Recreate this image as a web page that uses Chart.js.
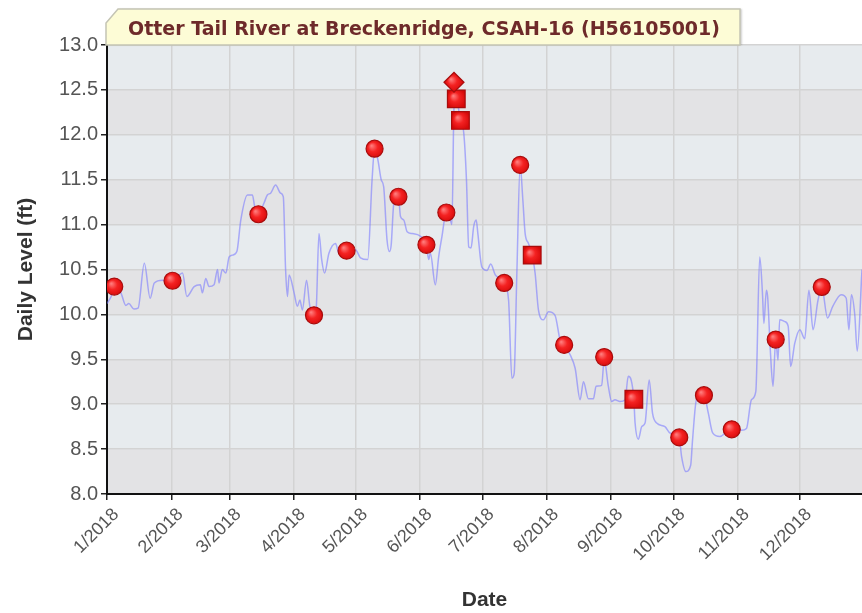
<!DOCTYPE html>
<html>
<head>
<meta charset="utf-8">
<script src="https://cdn.jsdelivr.net/npm/chart.js@4/dist/chart.umd.min.js"></script>
<style>
html,body{margin:0;padding:0;background:#fff;overflow:hidden;}
#wrap{width:862px;height:613px;position:relative;}
canvas{display:block;}
</style>
</head>
<body>
<div id="wrap"><canvas id="c" width="862" height="613"></canvas></div>
<script>
// ---------- DATA ----------
const chartTitle = "Otter Tail River at Breckenridge, CSAH-16 (H56105001)";
const xAxisTitle = "Date";
const yAxisTitle = "Daily Level (ft)";

// x values are day-of-year 2018 (0 = Jan 1)
const monthTickDays   = [0, 31, 59, 90, 120, 151, 181, 212, 243, 273, 304, 334];
const monthTickLabels = ["1/2018","2/2018","3/2018","4/2018","5/2018","6/2018","7/2018","8/2018","9/2018","10/2018","11/2018","12/2018"];
const yTickValues = [8.0, 8.5, 9.0, 9.5, 10.0, 10.5, 11.0, 11.5, 12.0, 12.5, 13.0];

// daily level trace
const lineDays = [0, 2, 3.5, 5, 6.7, 9.1, 10.5, 13, 15, 18, 20.8, 22.8, 26.8, 29, 31.6, 34, 36.4, 38.5, 42, 45, 46, 47.6, 49.2, 51.6, 53.3, 54, 55.6, 57.3, 58.9, 60.5, 62.6, 64.5, 67.7, 70.1, 71.2, 73, 75.7, 77.3, 78.9, 81.3, 83.7, 85, 86.1, 87, 87.8, 90.2, 91.8, 93, 94.2, 96.2, 97.8, 99.8, 100.4, 101, 102.2, 103.5, 104.9, 107, 110.2, 111.8, 115.5, 119.8, 122.2, 125.7, 127.8, 129, 130.6, 132.2, 133.4, 135, 136.2, 137, 138.3, 140.5, 141.5, 143.1, 144.7, 147.1, 151.1, 154, 155.1, 155.9, 158.3, 159.9, 161.5, 163.6, 165, 166.3, 167.3, 168.4, 170.4, 172, 173.3, 174.4, 175.5, 176.8, 178, 178.8, 180.7, 183.2, 185, 187.2, 191.5, 193.6, 195.2, 196.3, 197.6, 199.2, 200.5, 201.6, 203.2, 205, 206.4, 208, 210.4, 212.9, 216, 218.5, 220.4, 223.3, 225.7, 228.1, 229.7, 232.1, 234.5, 235.8, 238.5, 239.7, 241.7, 243.3, 244.9, 247.3, 249.8, 251.3, 252.7, 254, 254.6, 256.2, 257.8, 259.4, 261.4, 263, 265, 269, 271.4, 275.9, 277, 279.1, 281.4, 282.3, 284.2, 287.8, 289.9, 292, 295.5, 298.7, 301.2, 305.9, 308.3, 310.7, 312.8, 314.7, 316, 316.7, 317.9, 318.5, 319.8, 321.1, 322.4, 323.5, 324.3, 326.8, 328.4, 329.6, 331.6, 334, 336.4, 338.4, 340.4, 342.8, 344.6, 347.4, 349.9, 354, 356.4, 357.7, 358.9, 360.5, 361.7, 364];
const lineLevels = [10.12, 10.2, 10.3, 10.28, 10.24, 10.10, 10.12, 10.06, 10.07, 10.57, 10.18, 10.35, 10.38, 10.36, 10.37, 10.42, 10.46, 10.20, 10.31, 10.33, 10.24, 10.40, 10.31, 10.33, 10.50, 10.35, 10.50, 10.46, 10.64, 10.66, 10.70, 11.05, 11.33, 11.33, 11.20, 11.12, 11.24, 11.33, 11.35, 11.44, 11.35, 11.31, 10.50, 10.20, 10.44, 10.24, 10.09, 10.16, 10.05, 10.38, 10.09, 9.99, 9.90, 10.12, 10.90, 10.61, 10.46, 10.68, 10.79, 10.68, 10.71, 10.72, 10.63, 10.61, 11.50, 11.84, 11.72, 11.50, 11.42, 10.83, 10.70, 10.77, 11.24, 11.31, 11.09, 11.05, 10.92, 10.90, 10.87, 10.78, 10.61, 10.68, 10.33, 10.64, 10.87, 11.14, 11.10, 11.00, 12.30, 12.40, 12.16, 12.02, 11.50, 10.75, 10.74, 10.98, 11.05, 10.90, 10.53, 10.49, 10.56, 10.44, 10.35, 10.16, 9.29, 9.34, 10.46, 11.66, 11.27, 10.90, 10.79, 10.66, 10.46, 10.05, 9.94, 10.03, 9.99, 9.71, 9.66, 9.55, 9.40, 9.05, 9.25, 9.06, 9.06, 9.20, 9.21, 9.50, 9.20, 9.03, 9.05, 9.03, 9.05, 9.31, 9.27, 9.05, 8.79, 8.61, 8.75, 8.79, 9.27, 8.90, 8.79, 8.75, 8.68, 8.63, 8.42, 8.25, 8.32, 8.60, 9.05, 9.10, 8.90, 8.68, 8.64, 8.69, 8.72, 8.71, 8.73, 9.05, 9.14, 10.64, 10.24, 9.90, 10.27, 10.20, 9.60, 9.20, 9.72, 9.49, 9.94, 9.92, 9.87, 9.42, 9.68, 9.83, 9.73, 10.27, 9.83, 10.16, 10.30, 9.96, 10.09, 10.22, 10.18, 9.83, 10.22, 10.00, 9.59, 10.50];

// field samples (circles)
const sampleDays   = [3.5, 31.6, 73.0, 99.8, 115.5, 129.0, 140.5, 154.0, 163.6, 191.5, 199.2, 220.4, 239.7, 275.9, 287.8, 301.2, 322.4, 344.6];
const sampleLevels = [10.31, 10.375, 11.115, 9.99, 10.71, 11.845, 11.31, 10.775, 11.135, 10.35, 11.665, 9.66, 9.525, 8.63, 9.10, 8.72, 9.72, 10.305];

// squares
const squareDays   = [168.4, 170.4, 205.0, 254.0];
const squareLevels = [12.40, 12.16, 10.66, 9.055];

// diamond
const diamondDays   = [167.3];
const diamondLevels = [12.585];

// ---------- CHART ----------
Chart.defaults.font.family = '"Liberation Sans", Arial, sans-serif';

const toPts = (xs, ys) => xs.map((d, i) => ({x: d, y: ys[i]}));

function markerFill(c) {
  const chart = c.chart;
  const fallback = '#ee1a1a';
  if (!c.parsed || !chart.scales || !chart.scales.x) return fallback;
  const px = chart.scales.x.getPixelForValue(c.parsed.x);
  const py = chart.scales.y.getPixelForValue(c.parsed.y);
  if (!isFinite(px) || !isFinite(py)) return fallback;
  const g = chart.ctx.createRadialGradient(px - 3, py - 3, 0.5, px, py, 10);
  g.addColorStop(0, '#ff7a7a');
  g.addColorStop(0.45, '#f42222');
  g.addColorStop(1, '#d40808');
  return g;
}

const bandsPlugin = {
  id: 'bands',
  beforeDraw(chart) {
    const {ctx, chartArea: a, scales: {y}} = chart;
    ctx.save();
    for (let i = 0; i < yTickValues.length - 1; i++) {
      const lo = yTickValues[i], hi = yTickValues[i + 1];
      const yTop = y.getPixelForValue(hi), yBot = y.getPixelForValue(lo);
      const fromTop = yTickValues.length - 2 - i;
      ctx.fillStyle = (fromTop % 2 === 0) ? '#e7ebee' : '#e3e3e5';
      ctx.fillRect(a.left, yTop, a.right - a.left, yBot - yTop);
    }
    ctx.restore();
  }
};

const titleBoxPlugin = {
  id: 'titleBox',
  afterDraw(chart) {
    const {ctx, chartArea: a} = chart;
    const left = a.left - 1, right = 740, top = 9, bottom = a.top;
    ctx.save();
    ctx.beginPath();
    ctx.moveTo(left, bottom);
    ctx.lineTo(left, top + 14);
    ctx.lineTo(left + 12, top);
    ctx.lineTo(right, top);
    ctx.lineTo(right, bottom);
    ctx.closePath();
    ctx.shadowColor = 'rgba(0,0,0,0.18)';
    ctx.shadowOffsetX = 2;
    ctx.shadowOffsetY = 0;
    ctx.shadowBlur = 2;
    ctx.fillStyle = '#fdfcd6';
    ctx.fill();
    ctx.shadowColor = 'transparent';
    ctx.strokeStyle = '#c4c4b4';
    ctx.lineWidth = 1.5;
    ctx.stroke();
    ctx.font = 'bold 19px "DejaVu Sans", Verdana, sans-serif';
    ctx.fillStyle = '#6e2a2a';
    ctx.textAlign = 'center';
    ctx.textBaseline = 'middle';
    ctx.fillText(chartTitle, 424, (top + bottom) / 2 + 3);
    ctx.restore();
  }
};

const gridCfg = {color: '#d3d3d3', lineWidth: 1.5, tickColor: '#222', tickLength: 6, tickWidth: 1.5};
const borderCfg = {display: true, color: '#111', width: 2};

new Chart(document.getElementById('c'), {
  type: 'scatter',
  data: {
    datasets: [
      {
        label: 'diamond',
        data: toPts(diamondDays, diamondLevels),
        pointStyle: 'rectRot',
        pointRadius: 10,
        pointBackgroundColor: markerFill,
        pointBorderColor: '#a80c0c',
        pointBorderWidth: 1.2,
        order: 1
      },
      {
        label: 'squares',
        data: toPts(squareDays, squareLevels),
        pointStyle: 'rect',
        pointRadius: 12.5,
        pointBackgroundColor: markerFill,
        pointBorderColor: '#a80c0c',
        pointBorderWidth: 1.2,
        order: 2
      },
      {
        label: 'samples',
        data: toPts(sampleDays, sampleLevels),
        pointStyle: 'circle',
        pointRadius: 8.5,
        pointBackgroundColor: markerFill,
        pointBorderColor: '#a80c0c',
        pointBorderWidth: 1.2,
        order: 3
      },
      {
        label: 'daily',
        data: toPts(lineDays, lineLevels),
        showLine: true,
        borderColor: 'rgba(120,120,255,0.58)',
        borderWidth: 1.5,
        pointRadius: 0,
        cubicInterpolationMode: 'monotone',
        order: 10
      }
    ]
  },
  options: {
    responsive: false,
    animation: false,
    devicePixelRatio: 1,
    layout: {autoPadding: false, padding: {top: 45, left: 0, right: 0, bottom: 0}},
    plugins: {legend: {display: false}, tooltip: {enabled: false}, title: {display: false}},
    scales: {
      x: {
        type: 'linear',
        min: 0,
        max: 364,
        afterBuildTicks: s => { s.ticks = monthTickDays.map(v => ({value: v})); },
        afterFit: s => { s.height = 119; s.paddingLeft = 0; s.paddingRight = 0; },
        ticks: {
          autoSkip: false,
          maxRotation: 45,
          minRotation: 45,
          color: '#555',
          font: {size: 18},
          padding: 4,
          labelOffset: 9,
          callback: (v, i) => monthTickLabels[i]
        },
        grid: gridCfg,
        border: borderCfg,
        title: {display: true, text: xAxisTitle, color: '#333', font: {size: 21, weight: 'bold'}, padding: {top: 0, bottom: 0}}
      },
      y: {
        min: 8,
        max: 13,
        afterBuildTicks: s => { s.ticks = yTickValues.map(v => ({value: v})); },
        afterFit: s => { s.width = 107; s.paddingTop = 0; s.paddingBottom = 0; },
        ticks: {
          color: '#555',
          font: {size: 20},
          padding: 3,
          callback: v => Number(v).toFixed(1)
        },
        grid: gridCfg,
        border: borderCfg,
        title: {display: true, text: yAxisTitle, color: '#333', font: {size: 21, weight: 'bold'}, padding: {top: 14, bottom: 0}}
      }
    }
  },
  plugins: [bandsPlugin, titleBoxPlugin]
});
</script>
</body>
</html>
